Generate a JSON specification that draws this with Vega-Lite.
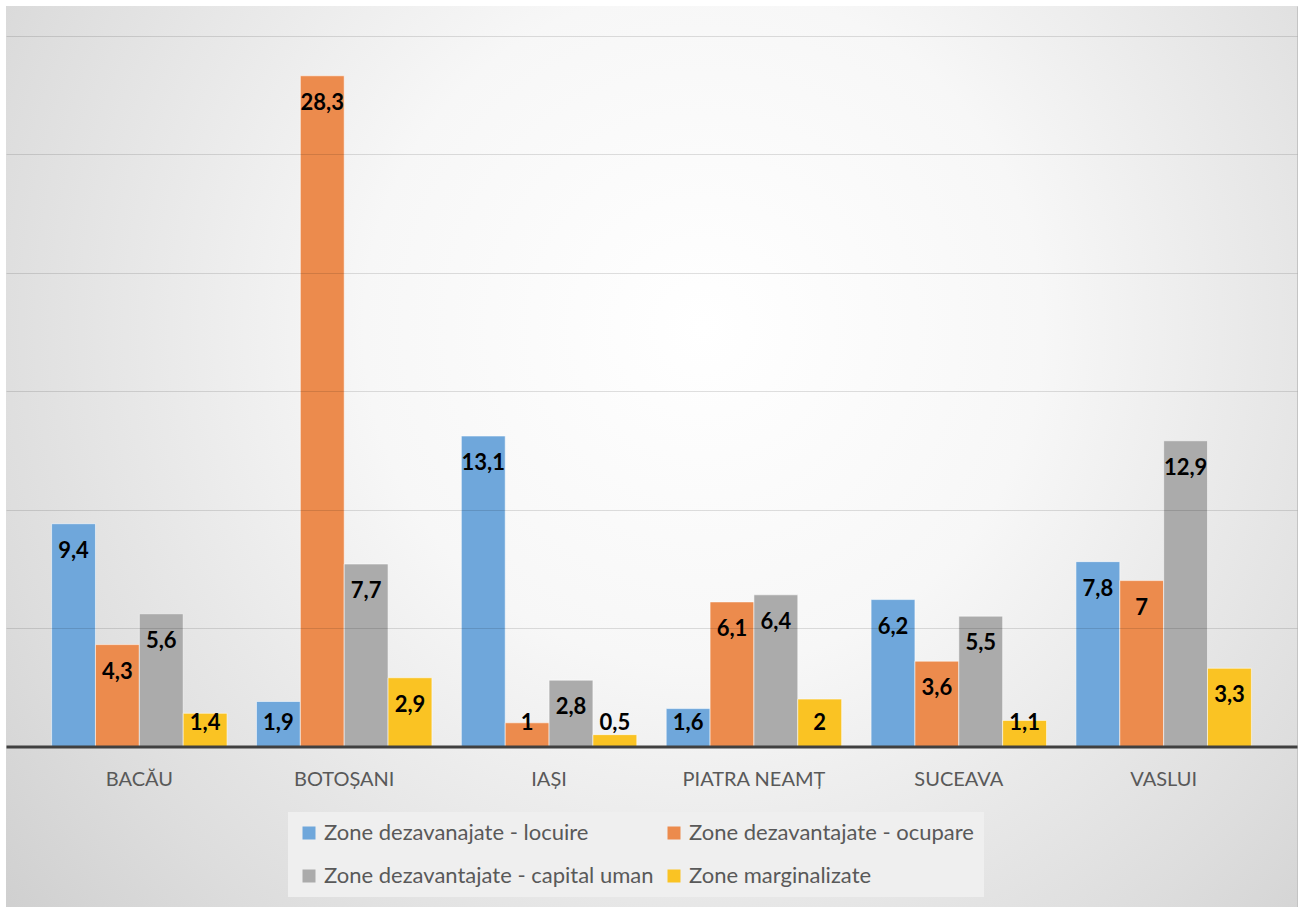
{
  "$schema": "https://vega.github.io/schema/vega-lite/v6.json",
  "width": 1291,
  "height": 901,
  "autosize": {"type": "none"},
  "padding": {"left": 6, "top": 6, "right": 6, "bottom": 0},
  "background": "white",
  "config": {
    "font": "Lato",
    "view": {"stroke": "#c4c4c4", "strokeWidth": 1, "fill": "#e6e6e6"}
  },
  "data": {
    "values": [
      {"judet": "BACĂU", "serie": "Zone dezavanajate - locuire", "value": 9.4},
      {"judet": "BACĂU", "serie": "Zone dezavantajate - ocupare", "value": 4.3},
      {"judet": "BACĂU", "serie": "Zone dezavantajate - capital uman", "value": 5.6},
      {"judet": "BACĂU", "serie": "Zone marginalizate", "value": 1.4},
      {"judet": "BOTOȘANI", "serie": "Zone dezavanajate - locuire", "value": 1.9},
      {"judet": "BOTOȘANI", "serie": "Zone dezavantajate - ocupare", "value": 28.3},
      {"judet": "BOTOȘANI", "serie": "Zone dezavantajate - capital uman", "value": 7.7},
      {"judet": "BOTOȘANI", "serie": "Zone marginalizate", "value": 2.9},
      {"judet": "IAȘI", "serie": "Zone dezavanajate - locuire", "value": 13.1},
      {"judet": "IAȘI", "serie": "Zone dezavantajate - ocupare", "value": 1},
      {"judet": "IAȘI", "serie": "Zone dezavantajate - capital uman", "value": 2.8},
      {"judet": "IAȘI", "serie": "Zone marginalizate", "value": 0.5},
      {"judet": "PIATRA NEAMȚ", "serie": "Zone dezavanajate - locuire", "value": 1.6},
      {"judet": "PIATRA NEAMȚ", "serie": "Zone dezavantajate - ocupare", "value": 6.1},
      {"judet": "PIATRA NEAMȚ", "serie": "Zone dezavantajate - capital uman", "value": 6.4},
      {"judet": "PIATRA NEAMȚ", "serie": "Zone marginalizate", "value": 2},
      {"judet": "SUCEAVA", "serie": "Zone dezavanajate - locuire", "value": 6.2},
      {"judet": "SUCEAVA", "serie": "Zone dezavantajate - ocupare", "value": 3.6},
      {"judet": "SUCEAVA", "serie": "Zone dezavantajate - capital uman", "value": 5.5},
      {"judet": "SUCEAVA", "serie": "Zone marginalizate", "value": 1.1},
      {"judet": "VASLUI", "serie": "Zone dezavanajate - locuire", "value": 7.8},
      {"judet": "VASLUI", "serie": "Zone dezavantajate - ocupare", "value": 7},
      {"judet": "VASLUI", "serie": "Zone dezavantajate - capital uman", "value": 12.9},
      {"judet": "VASLUI", "serie": "Zone marginalizate", "value": 3.3}
    ]
  },
  "layer": [
    {
      "mark": {
        "type": "rect",
        "fill": {
          "gradient": "radial",
          "x1": 0.54, "y1": 0.4, "r1": 0,
          "x2": 0.54, "y2": 0.4, "r2": 0.75,
          "stops": [
            {"offset": 0, "color": "#ffffff"},
            {"offset": 0.35, "color": "#f7f7f7"},
            {"offset": 0.75, "color": "#dddddd"},
            {"offset": 1, "color": "#cbcbcb"}
          ]
        }
      },
      "encoding": {}
    },
    {
      "encoding": {
        "x": {
          "field": "judet", "type": "nominal",
          "scale": {"domain": ["BACĂU", "BOTOȘANI", "IAȘI", "PIATRA NEAMȚ", "SUCEAVA", "VASLUI"], "paddingInner": 0.1436, "paddingOuter": 0.2226},
          "axis": {
            "title": null, "domain": true, "domainColor": "#404040", "domainWidth": 3, "ticks": false,
            "labelAngle": 0, "labelFont": "Lato", "labelFontSize": 20,
            "labelColor": "#595959", "labelPadding": 33, "labelBaseline": "middle",
            "offset": -160.5, "zindex": 1
          }
        },
        "xOffset": {
          "field": "serie", "type": "nominal",
          "scale": {"domain": ["Zone dezavanajate - locuire", "Zone dezavantajate - ocupare", "Zone dezavantajate - capital uman", "Zone marginalizate"]}
        }
      },
      "layer": [
        {
          "mark": {"type": "bar", "stroke": "white", "strokeOpacity": 0.55, "strokeWidth": 1},
          "encoding": {
            "y": {
              "field": "value", "type": "quantitative", "stack": null,
              "scale": {"domain": [-6.772, 31.245], "nice": false},
              "axis": {
                "title": null, "labels": false, "ticks": false, "domain": false,
                "grid": true, "values": [5, 10, 15, 20, 25, 30],
                "gridColor": "#000000", "gridOpacity": 0.12, "gridWidth": 1, "zindex": 1
              }
            },
            "color": {
              "field": "serie", "type": "nominal",
              "scale": {
                "domain": ["Zone dezavanajate - locuire", "Zone dezavantajate - capital uman", "Zone dezavantajate - ocupare", "Zone marginalizate"],
                "range": ["#6FA7DB", "#ABABAB", "#EC8B4D", "#FAC323"]
              },
              "legend": {
                "title": null, "orient": "none", "legendX": 282, "legendY": 806,
                "columns": 2,
                "symbolType": "square", "symbolSize": 169, "symbolStrokeWidth": 0,
                "labelFont": "Lato", "labelFontSize": 22, "labelColor": "#595959",
                "labelOffset": 4, "labelLimit": 600, "columnPadding": 9, "rowPadding": 21,
                "padding": 10, "fillColor": "#efefef"
              }
            }
          }
        },
        {
          "transform": [
            {"calculate": "replace(format(datum.value, '~g'), '.', ',')", "as": "label"},
            {"calculate": "max(datum.value, 2.15)", "as": "ly"}
          ],
          "mark": {"type": "text", "font": "Lato", "fontWeight": "bold", "fontSize": 22, "color": "black", "baseline": "middle", "dy": 27},
          "encoding": {
            "y": {"field": "ly", "type": "quantitative"},
            "text": {"field": "label"}
          }
        }
      ]
    }
  ]
}
